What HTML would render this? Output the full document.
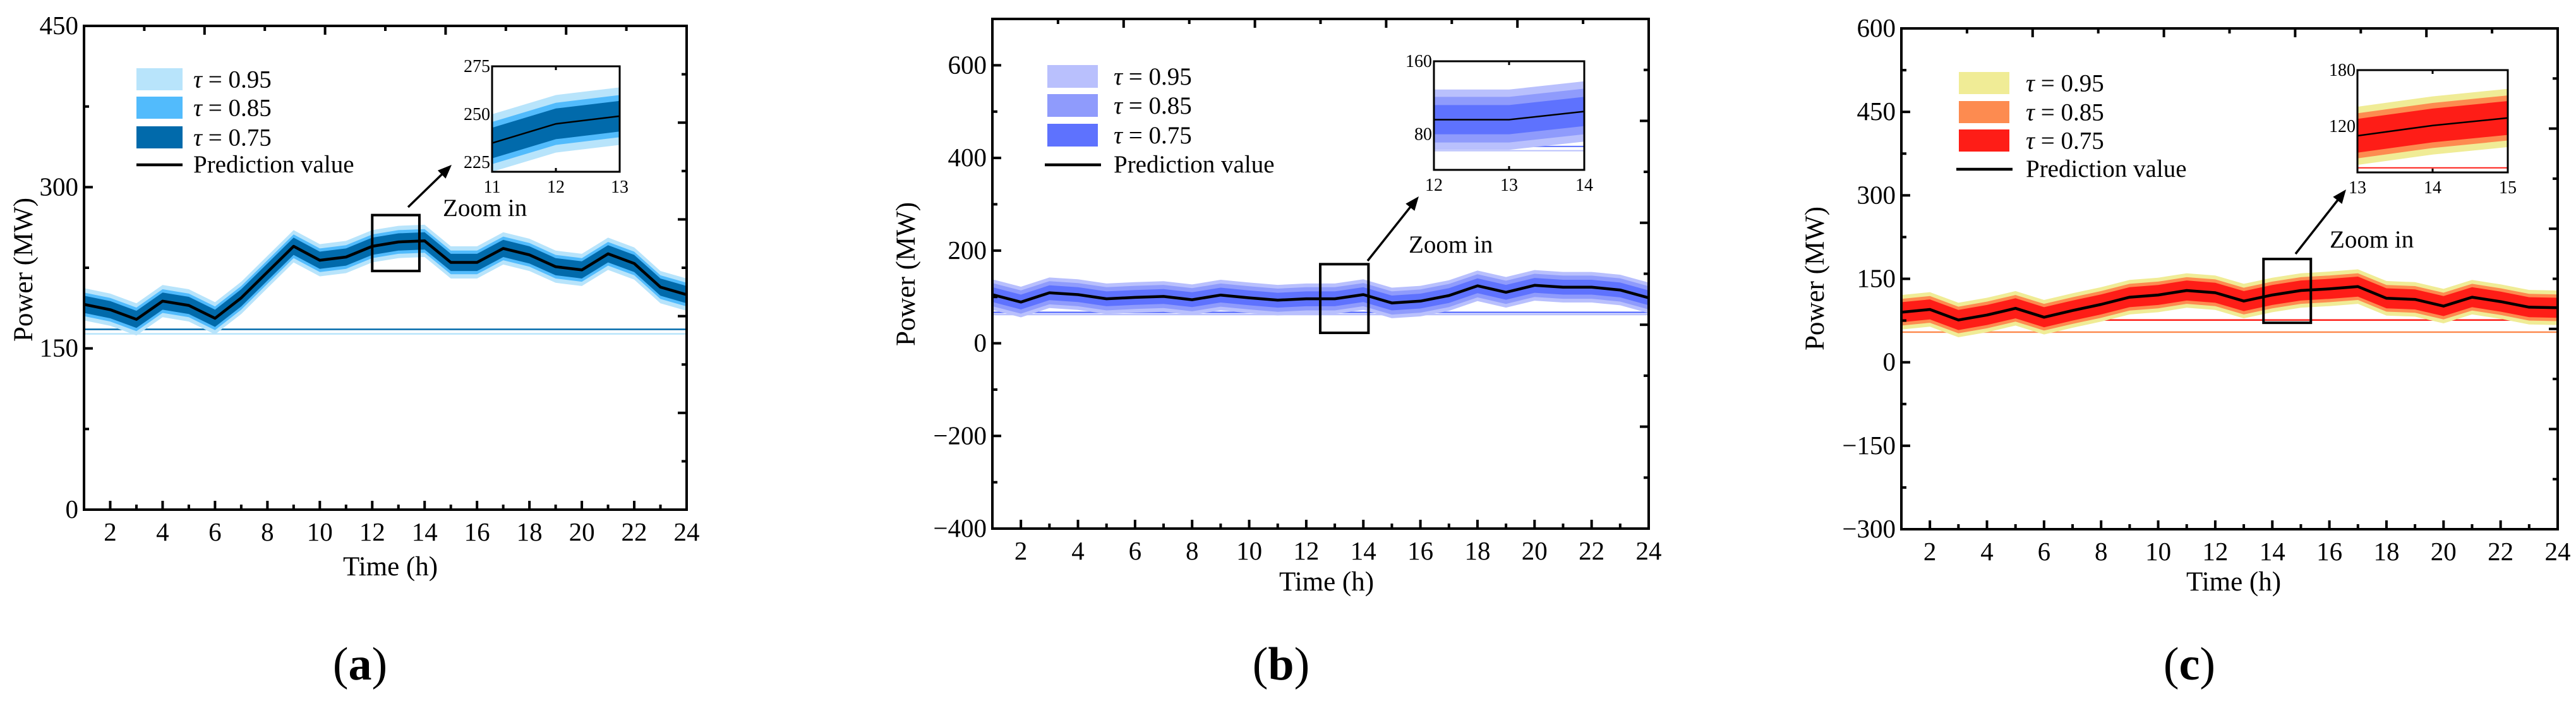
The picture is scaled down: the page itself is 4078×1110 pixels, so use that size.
<!DOCTYPE html>
<html><head><meta charset="utf-8"><style>
html,body{margin:0;padding:0;background:#fff;}
text{font-family:"Liberation Serif","Times New Roman",serif;fill:#000;}
</style></head><body>
<svg id="fig" xmlns="http://www.w3.org/2000/svg" width="4078" height="1105" viewBox="0 0 4078 1105" font-family="Liberation Serif, serif">
</svg>
<script>
// ---- data ----
const hours = [1,2,3,4,5,6,7,8,9,10,11,12,13,14,15,16,17,18,19,20,21,22,23,24];
const predA = [191,186,177,194,190,178,197,221,245,232,235,245,249,250,230,230,243,237,226,223,238,229,207,200];
const predB = [105,89,109,105,96,99,101,94,104,98,93,96,96,105,87,91,103,124,110,125,121,121,115,98];
const predC = [90,95,76,85,97,81,93,104,117,121,129,125,110,121,129,132,136,115,113,101,117,109,99,98];
const tauLabels = ["0.95","0.85","0.75"];
const halfA = [15,11,8];
const halfB = [33,25,16];
const halfC = [31,24,18];
const hLinesA = [167.7,163.5];
const hLinesB = [66.7,62];
const hLinesC = [75.9,54.2];
const yTicksA = [0,150,300,450];
const yTicksB = [-400,-200,0,200,400,600];
const yTicksC = [-300,-150,0,150,300,450,600];
const xTickLabels = [2,4,6,8,10,12,14,16,18,20,22,24];

const NS="http://www.w3.org/2000/svg";
const svg=document.getElementById('fig');
const FF='Liberation Serif, Times New Roman, serif';
function mk(tag,attrs,parent){const e=document.createElementNS(NS,tag);for(const k in attrs)e.setAttribute(k,attrs[k]);if(tag==='text')e.setAttribute('font-family',FF);(parent||svg).appendChild(e);return e;}

const panels=[
 {id:'a',L:133,R:1087,T:41,B:807,ymin:0,ymax:450,yTicks:yTicksA,yMinor:75,pred:predA,half:halfA,hl:hLinesA,
  cols:['#b8e4fb','#52bbfc','#016aab'],hlc:['#016aab','#b8e4fb'],
  box:[12,13.8,222,274],inset:{L:779,R:981,T:105,B:272,x0:11,x1:13,y0:220,y1:275,ticks:[225,250,275],xt:[11,12,13]},
  arrow:[646,328,715,261],zoomTxt:[701,342],
  leg:{sx:216,sw:73,ys:[108,153,200],sh:35,tx:306,ly:261,lx:[216,289]},
  ytitle:[37,427],xtitle:[618,911],cap:[570,1070]},
 {id:'b',L:1571,R:2610,T:30,B:837,ymin:-400,ymax:700,yTicks:yTicksB,yMinor:100,pred:predB,half:halfB,hl:hLinesB,
  cols:['#b9c0fd','#8f9bfc','#5e72fe'],hlc:['#5e72fe','#b9c0fd'],
  box:[12.49,14.18,22.5,170.7],inset:{L:2270,R:2508,T:97,B:269,x0:12,x1:14,y0:41,y1:160,ticks:[80,160],xt:[12,13,14]},
  arrow:[2165,413,2246,311],zoomTxt:[2230,400],
  leg:{sx:1658,sw:80,ys:[103,149,196],sh:36,tx:1763,ly:261,lx:[1654,1743]},
  ytitle:[1434,434],xtitle:[2100,935],cap:[2028,1070]},
 {id:'c',L:3010,R:4049,T:45,B:838,ymin:-300,ymax:600,yTicks:yTicksC,yMinor:75,pred:predC,half:halfC,hl:hLinesC,
  cols:['#f0ec96','#fd8b50','#fe1d17'],hlc:['#fe1d17','#fd8b50'],
  box:[13.69,15.35,71,185.6],inset:{L:3732,R:3970,T:111,B:273,x0:13,x1:15,y0:71,y1:180,ticks:[120,180],xt:[13,14,15]},
  arrow:[3634,402,3714,300],zoomTxt:[3688,392],
  leg:{sx:3101,sw:80,ys:[114,160,205],sh:35,tx:3207,ly:268,lx:[3097,3186]},
  ytitle:[2873,441],xtitle:[3536,935],cap:[3466,1070]}
];

function bandPath(xs,ys,pred,h,idx){
  let p='';
  idx.forEach((i,k)=>{p+=(k?'L':'M')+xs(hours[i]).toFixed(1)+','+ys(pred[i]+h).toFixed(1);});
  for(let k=idx.length-1;k>=0;k--){const i=idx[k];p+='L'+xs(hours[i]).toFixed(1)+','+ys(pred[i]-h).toFixed(1);}
  return p+'Z';
}
function linePath(xs,ys,pred,idx){return idx.map((i,k)=>(k?'L':'M')+xs(hours[i]).toFixed(1)+','+ys(pred[i]).toFixed(1)).join('');}
const allIdx=hours.map((_,i)=>i);

panels.forEach(P=>{
  const g=mk('g',{});
  
  
  const xs=v=>P.L+(v-1)/23*(P.R-P.L);
  const ys=v=>P.B-(v-P.ymin)/(P.ymax-P.ymin)*(P.B-P.T);
  const cp=mk('clipPath',{id:'clip'+P.id},g);
  mk('rect',{x:P.L,y:P.T,width:P.R-P.L,height:P.B-P.T},cp);
  const data=mk('g',{'clip-path':'url(#clip'+P.id+')'},g);
  P.hl.forEach((v,i)=>{const l=mk('line',{x1:P.L,x2:P.R,y1:ys(v),y2:ys(v),stroke:P.hlc[i],'stroke-width':2.5},data);
    });
  P.half.forEach((h,t)=>{const b=mk('path',{d:bandPath(xs,ys,P.pred,h,allIdx),fill:P.cols[t]},data);
    });
  const ln=mk('path',{d:linePath(xs,ys,P.pred,allIdx),fill:'none',stroke:'#000','stroke-width':4.5,'stroke-linejoin':'round'},data);
  
  const fr=mk('rect',{x:P.L,y:P.T,width:P.R-P.L,height:P.B-P.T,fill:'none',stroke:'#000','stroke-width':4},g);
  
  for(let h=1;h<=24;h++){const x=xs(h);const len=(h%2===0)?14:8;
    mk('line',{x1:x,x2:x,y1:P.B,y2:P.B-len,stroke:'#000','stroke-width':4},g);}
  xTickLabels.forEach(v=>{const t=mk('text',{x:xs(v),y:P.B+49,'font-size':41,'text-anchor':'middle'},g);t.textContent=v;
    });
  for(let k=1;k<10;k++){const x=P.L+k*(P.R-P.L)/10;const len=k%2?8:14;
    mk('line',{x1:x,x2:x,y1:P.T,y2:P.T+len,stroke:'#000','stroke-width':4},g);
    const y=P.T+k*(P.B-P.T)/10;
    mk('line',{x1:P.R,x2:P.R-len,y1:y,y2:y,stroke:'#000','stroke-width':4},g);}
  for(let v=P.ymin;v<=P.ymax;v+=P.yMinor){const major=P.yTicks.includes(v);
    mk('line',{x1:P.L,x2:P.L+(major?14:8),y1:ys(v),y2:ys(v),stroke:'#000','stroke-width':4},g);}
  P.yTicks.forEach(v=>{const t=mk('text',{x:P.L-9,y:ys(v)+13,'font-size':41,'text-anchor':'end'},g);
    t.textContent=v<0?'\u2212'+(-v):v;});
  const yt=mk('text',{x:0,y:0,'font-size':43,'text-anchor':'middle',transform:`translate(${P.ytitle[0]+14},${P.ytitle[1]}) rotate(-90)`},g);
  yt.textContent='Power (MW)';
  const xt=mk('text',{x:P.xtitle[0],y:P.xtitle[1],'font-size':43,'text-anchor':'middle'},g);
  xt.textContent='Time (h)';
  const cap=mk('text',{x:P.cap[0],y:P.cap[1]+6,'font-size':74,'text-anchor':'middle'},g);
  cap.innerHTML='(<tspan font-weight="bold">'+P.id+'</tspan>)';
  const lg=mk('g',{},g);
  tauLabels.forEach((lab,t)=>{const r=mk('rect',{x:P.leg.sx,y:P.leg.ys[t],width:P.leg.sw,height:P.leg.sh,fill:P.cols[t]},lg);
    
    const tx=mk('text',{x:P.leg.tx,y:P.leg.ys[t]+P.leg.sh/2+13,'font-size':39},lg);
    tx.innerHTML='<tspan font-style="italic">τ</tspan> = '+lab;});
  mk('line',{x1:P.leg.lx[0],x2:P.leg.lx[1],y1:P.leg.ly,y2:P.leg.ly,stroke:'#000','stroke-width':4.5},lg);
  const pt=mk('text',{x:P.leg.tx,y:P.leg.ly+12,'font-size':39},lg);pt.textContent='Prediction value';
  
  const bx=mk('rect',{x:xs(P.box[0]),y:ys(P.box[3]),width:xs(P.box[1])-xs(P.box[0]),height:ys(P.box[2])-ys(P.box[3]),fill:'none',stroke:'#000','stroke-width':4},g);
  
  const a=P.arrow;const ang=Math.atan2(a[3]-a[1],a[2]-a[0]);
  mk('line',{x1:a[0],y1:a[1],x2:a[2]-10*Math.cos(ang),y2:a[3]-10*Math.sin(ang),stroke:'#000','stroke-width':3.5},g);
  const hx=a[2],hy=a[3],L=22,W=9;
  const bxp=hx-L*Math.cos(ang),byp=hy-L*Math.sin(ang);
  const ar=mk('polygon',{points:`${hx},${hy} ${bxp+W*Math.sin(ang)},${byp-W*Math.cos(ang)} ${bxp-W*Math.sin(ang)},${byp+W*Math.cos(ang)}`,fill:'#000'},g);
  
  const zt=mk('text',{x:P.zoomTxt[0],y:P.zoomTxt[1],'font-size':39},g);zt.textContent='Zoom in';
  
  const I=P.inset;const ig=mk('g',{},g);
  const ixs=v=>I.L+(v-I.x0)/(I.x1-I.x0)*(I.R-I.L);
  const iys=v=>I.B-(v-I.y0)/(I.y1-I.y0)*(I.B-I.T);
  mk('rect',{x:I.L,y:I.T,width:I.R-I.L,height:I.B-I.T,fill:'#fff'},ig);
  const icp=mk('clipPath',{id:'iclip'+P.id},ig);
  mk('rect',{x:I.L,y:I.T,width:I.R-I.L,height:I.B-I.T},icp);
  const idg=mk('g',{'clip-path':'url(#iclip'+P.id+')'},ig);
  P.hl.forEach((v,i)=>mk('line',{x1:I.L,x2:I.R,y1:iys(v),y2:iys(v),stroke:P.hlc[i],'stroke-width':2},idg));
  P.half.forEach((h,t)=>mk('path',{d:bandPath(ixs,iys,P.pred,h,allIdx),fill:P.cols[t]},idg));
  mk('path',{d:linePath(ixs,iys,P.pred,allIdx),fill:'none',stroke:'#000','stroke-width':2.5},idg);
  mk('rect',{x:I.L,y:I.T,width:I.R-I.L,height:I.B-I.T,fill:'none',stroke:'#000','stroke-width':3},ig);
  I.xt.forEach(v=>{mk('line',{x1:ixs(v),x2:ixs(v),y1:I.B,y2:I.B-6,stroke:'#000','stroke-width':3},ig);
    mk('line',{x1:ixs(v),x2:ixs(v),y1:I.T,y2:I.T+6,stroke:'#000','stroke-width':3},ig);});
  I.ticks.forEach(v=>{const t=mk('text',{x:I.L-3,y:iys(v)+9,'font-size':28,'text-anchor':'end'},ig);t.textContent=v;});
  I.xt.forEach(v=>{const t=mk('text',{x:ixs(v),y:I.B+33,'font-size':28,'text-anchor':'middle'},ig);t.textContent=v;});
});
</script>
</body></html>
